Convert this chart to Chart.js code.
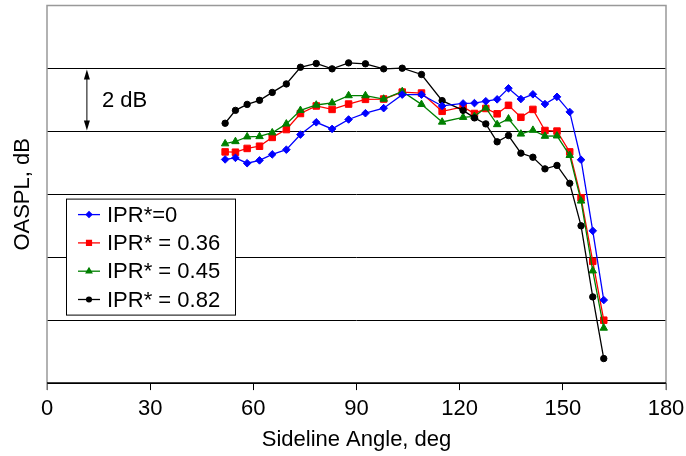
<!DOCTYPE html>
<html>
<head>
<meta charset="utf-8">
<script src="https://cdn.jsdelivr.net/npm/chart.js@4"></script>
<style>
  html, body { margin: 0; padding: 0; background: #fff; }
  #wrap { width: 686px; height: 456px; }
</style>
</head>
<body>
<div id="wrap"><canvas id="chart" width="686" height="456"></canvas></div>
<script>
(function () {
    'use strict';

    // sideline angle, deg
    var angles = [51.8, 54.8, 58.2, 61.8, 65.5, 69.6, 73.7, 78.3, 82.9, 87.7, 92.6, 97.9, 103.3, 108.9,
        114.9, 121.0, 124.3, 127.6, 130.9, 134.2, 137.8, 141.3, 144.8, 148.3, 152.0, 155.3, 158.7, 161.9];

    // OASPL, dB (relative, one grid step = 2 dB)
    var ipr0 = [7.11, 7.16, 6.99, 7.08, 7.27, 7.42, 7.90, 8.29, 8.08, 8.38, 8.58, 8.74, 9.17, 9.17,
        8.81, 8.89, 8.90, 8.96, 9.02, 9.37, 9.03, 9.18, 8.87, 9.10, 8.62, 7.10, 4.84, 2.64];
    var ipr036 = [7.35, 7.34, 7.46, 7.53, 7.81, 8.06, 8.57, 8.81, 8.70, 8.87, 9.02, 9.03, 9.25, 9.22,
        8.64, 8.78, 8.57, 8.73, 8.56, 8.83, 8.45, 8.70, 8.03, 8.01, 7.35, 5.89, 3.87, 2.00];
    var ipr045 = [7.61, 7.68, 7.83, 7.84, 7.96, 8.24, 8.67, 8.84, 8.91, 9.14, 9.14, 9.03, 9.27, 8.86,
        8.30, 8.45, 8.48, 8.75, 8.22, 8.40, 7.92, 8.04, 7.85, 7.86, 7.24, 5.79, 3.57, 1.75];
    var ipr082 = [8.26, 8.67, 8.86, 8.99, 9.24, 9.51, 10.04, 10.16, 9.99, 10.18, 10.15, 9.99, 10.01, 9.81,
        8.98, 8.67, 8.43, 8.24, 7.67, 7.87, 7.31, 7.18, 6.81, 6.92, 6.35, 5.00, 2.74, 0.78];

    var xTicks = [0, 30, 60, 90, 120, 150, 180];
    var yMin = 0, yMax = 12, yStep = 2;
    var seriesLabels = ['IPR*=0', 'IPR* = 0.36', 'IPR* = 0.45', 'IPR* = 0.82'];

    var FONT = "'Liberation Sans', Arial, sans-serif";

    function pts(ys) {
        return ys.map(function (y, i) {
            return { x: angles[i], y: y };
        });
    }

    function ds(label, ys, color, style, radius, order) {
        return {
            label: label,
            data: pts(ys),
            showLine: true,
            borderColor: color,
            backgroundColor: color,
            borderWidth: 1.3,
            pointStyle: style,
            pointRadius: radius,
            pointHoverRadius: radius,
            pointBorderWidth: 1,
            order: order,
        };
    }

    var legendPlugin = {
        id: 'boxLegend',
        afterDatasetsDraw: function (chart) {
            var ctx = chart.ctx;
            var a = chart.chartArea;
            var x0 = a.left + 19, y0 = a.top + 193, w = 169, h = 116;
            ctx.save();
            ctx.fillStyle = '#fff';
            ctx.fillRect(x0, y0, w, h);
            ctx.strokeStyle = '#000';
            ctx.lineWidth = 1;
            ctx.strokeRect(x0 + 0.5, y0 + 0.5, w, h);
            ctx.font = '22px ' + FONT;
            ctx.textBaseline = 'middle';
            chart.data.datasets.forEach(function (d, i) {
                var cy = y0 + 16 + i * 28.3;
                ctx.strokeStyle = d.borderColor;
                ctx.lineWidth = 1.3;
                ctx.beginPath();
                ctx.moveTo(x0 + 12, cy);
                ctx.lineTo(x0 + 34, cy);
                ctx.stroke();
                Chart.helpers.drawPoint(ctx, {
                    pointStyle: d.pointStyle,
                    radius: d.pointRadius * 0.75,
                    borderWidth: 1,
                    rotation: 0,
                }, x0 + 23, cy);
                ctx.fillStyle = d.borderColor;
                ctx.fill();
                ctx.fillStyle = '#000';
                ctx.fillText(d.label, x0 + 41, cy + 1);
            });
            ctx.restore();
        },
    };

    var framePlugin = {
        id: 'frame',
        beforeDatasetsDraw: function (chart) {
            var ctx = chart.ctx;
            var a = chart.chartArea;
            var xs = chart.scales.x, ys = chart.scales.y;
            ctx.save();
            ctx.strokeStyle = '#999';
            ctx.lineWidth = 1.5;
            ctx.beginPath();
            ctx.moveTo(a.left, a.bottom + 7);
            ctx.lineTo(a.left, a.top);
            ctx.lineTo(a.right, a.top);
            ctx.lineTo(a.right, a.bottom + 7);
            ctx.stroke();
            ctx.strokeStyle = '#000';
            ctx.lineWidth = 1.5;
            ctx.beginPath();
            ctx.moveTo(a.left, a.bottom);
            ctx.lineTo(a.right, a.bottom);
            ctx.stroke();

            // 2 dB marker
            var ax = xs.getPixelForValue(11.6);
            var yTop = ys.getPixelForValue(10) + 1;
            var yBot = ys.getPixelForValue(8) - 1;
            ctx.strokeStyle = '#000';
            ctx.fillStyle = '#000';
            ctx.lineWidth = 1;
            ctx.beginPath();
            ctx.moveTo(ax, yTop + 4);
            ctx.lineTo(ax, yBot - 4);
            ctx.stroke();
            ctx.beginPath();
            ctx.moveTo(ax, yTop);
            ctx.lineTo(ax - 3, yTop + 10);
            ctx.lineTo(ax + 3, yTop + 10);
            ctx.closePath();
            ctx.fill();
            ctx.beginPath();
            ctx.moveTo(ax, yBot);
            ctx.lineTo(ax - 3, yBot - 10);
            ctx.lineTo(ax + 3, yBot - 10);
            ctx.closePath();
            ctx.fill();
            ctx.font = '22px ' + FONT;
            ctx.textBaseline = 'middle';
            ctx.fillText('2 dB', ax + 15, ys.getPixelForValue(9) + 1);
            ctx.restore();
        },
    };

    new Chart(document.getElementById('chart'), {
        type: 'scatter',
        data: {
            datasets: [
                ds(seriesLabels[0], ipr0, '#0000ff', 'rectRot', 3.8, 1),
                ds(seriesLabels[1], ipr036, '#ff0000', 'rect', 4.6, 4),
                ds(seriesLabels[2], ipr045, '#008000', 'triangle', 4.3, 3),
                ds(seriesLabels[3], ipr082, '#000000', 'circle', 3.2, 2),
            ],
        },
        plugins: [framePlugin, legendPlugin],
        options: {
            responsive: false,
            animation: false,
            layout: { padding: { left: 12, right: 20, top: 3, bottom: 1.5 } },
            plugins: {
                legend: { display: false },
                tooltip: { enabled: false },
            },
            scales: {
                x: {
                    type: 'linear',
                    min: 0,
                    max: 180,
                    afterBuildTicks: function (s) {
                        s.ticks = xTicks.map(function (v) { return { value: v }; });
                    },
                    afterFit: function (s) {
                        s.paddingLeft = 0;
                        s.paddingRight = 0;
                    },
                    border: { display: false },
                    grid: {
                        drawOnChartArea: false,
                        drawTicks: true,
                        tickLength: 7,
                        color: '#000',
                        lineWidth: 1,
                    },
                    ticks: {
                        color: '#000',
                        padding: 6,
                        maxRotation: 0,
                        font: { family: FONT, size: 22 },
                    },
                    title: {
                        display: true,
                        text: 'Sideline Angle, deg',
                        color: '#000',
                        font: { family: FONT, size: 22, lineHeight: 1 },
                        padding: { top: 0, bottom: 4 },
                    },
                },
                y: {
                    min: yMin,
                    max: yMax,
                    ticks: { stepSize: yStep, display: false },
                    border: { display: false },
                    grid: {
                        drawTicks: false,
                        color: function (c) {
                            return c.tick && c.tick.value === yMax ? '#999' : '#000';
                        },
                        lineWidth: 1,
                    },
                    title: {
                        display: true,
                        text: 'OASPL, dB',
                        color: '#000',
                        font: { family: FONT, size: 22, lineHeight: 1 },
                        padding: { top: 0, bottom: 13 },
                    },
                },
            },
        },
    });
})();
</script>
</body>
</html>
